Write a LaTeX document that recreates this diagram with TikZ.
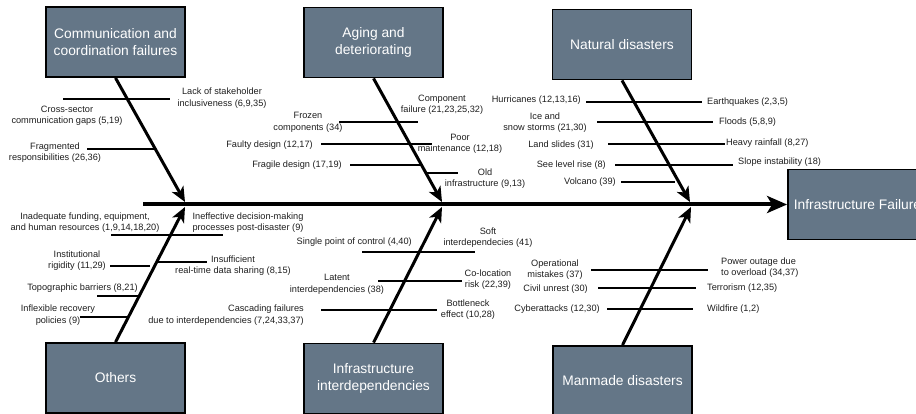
\documentclass[tikz,border=0pt]{standalone}
\usepackage{fontspec}
\setmainfont{Liberation Sans}
\usetikzlibrary{arrows.meta}
\definecolor{slate}{HTML}{647687}
\definecolor{labelc}{HTML}{1E1E1E}
\begin{document}
\begin{tikzpicture}[x=1pt,y=-1pt,
  cat/.style={draw=black, line width=1.8pt, fill=slate, text=white, minimum width=139pt, minimum height=70pt, inner sep=0pt, align=center, font=\fontsize{13.8}{17}\selectfont},
  bone/.style={line width=3pt, -{Stealth[length=15pt,width=13pt,inset=4pt]}},
  spinearrow/.style={line width=4pt, -{Stealth[length=20pt,width=17pt,inset=5pt]}},
  twig/.style={line width=1.8pt},
  lbl/.style={inner sep=0pt, align=center, text=labelc, font=\fontsize{9.2}{11.5}\selectfont},
]
\useasboundingbox (0,0) rectangle (916,414);
\clip (0,0) rectangle (916,414);

% category boxes
\node[cat] (comm) at (115.5,42) {Communication and\\coordination failures};
\node[cat] (aging) at (373.5,42.5) {Aging and\\deteriorating};
\node[cat] (nat) at (622,44.5) {Natural disasters};
\node[cat] (oth) at (115.5,378) {Others};
\node[cat] (inter) at (373.5,378.5) {Infrastructure\\interdependencies};
\node[cat] (man) at (622.5,381) {Manmade disasters};
\node[cat] (fail) at (857.5,204.5) {Infrastructure Failure};

% spine
\coordinate (sp0) at (143,204.5);
\draw[spinearrow] (sp0) -- (fail.west);

% main bones
\coordinate (t1) at (185,202);
\coordinate (t2) at (442,202);
\coordinate (t3) at (690,202);
\coordinate (b1) at (185,207);
\coordinate (b2) at (442,207);
\coordinate (b3) at (691,207);
\draw[bone] (comm.south) -- (t1);
\draw[bone] (aging.south) -- (t2);
\draw[bone] (nat.south) -- (t3);
\draw[bone] (oth.north) -- (b1);
\draw[bone] (inter.north) -- (b2);
\draw[bone] (man.north) -- (b3);

% ---- Communication and coordination failures
\draw[twig] (63,99) -- (170,99);
\node[lbl] (c1) at (222,98) {Lack of stakeholder\\inclusiveness (6,9,35)};
\node[lbl] (c2) at (67,115.5) {Cross-sector\\communication gaps (5,19)};
\draw[twig] (87,149) -- (154,149);
\node[lbl] (c3) at (55,152.5) {Fragmented\\responsibilities (26,36)};

% ---- Aging and deteriorating
\draw[twig] (339,122) -- (418,122);
\node[lbl] (a1) at (442,104.5) {Component\\failure (21,23,25,32)};
\node[lbl] (a2) at (308,122.5) {Frozen\\components (34)};
\draw[twig] (321,144) -- (432,144);
\node[lbl, anchor=east] (a3) at (313,145) {Faulty design (12,17)};
\node[lbl] (a4) at (460,144) {Poor\\maintenance (12,18)};
\draw[twig] (350,165) -- (420,165);
\node[lbl, anchor=east] (a5) at (342,165.5) {Fragile design (17,19)};
\draw[twig] (427,173) -- (458,173);
\node[lbl] (a6) at (485,178.5) {Old\\infrastructure (9,13)};

% ---- Natural disasters
\draw[twig] (586,102) -- (702,102);
\node[lbl, anchor=east] (n1) at (581,100.5) {Hurricanes (12,13,16)};
\node[lbl, anchor=west] (n2) at (707,102) {Earthquakes (2,3,5)};
\draw[twig] (597,122) -- (713,122);
\node[lbl] (n3) at (545,122.5) {Ice and\\snow storms (21,30)};
\node[lbl, anchor=west] (n4) at (719,122) {Floods (5,8,9)};
\draw[twig] (608,144) -- (725,144);
\node[lbl, anchor=east] (n5) at (594,145) {Land slides (31)};
\node[lbl, anchor=west] (n6) at (726,143.5) {Heavy rainfall (8,27)};
\draw[twig] (615,165) -- (733,165);
\node[lbl, anchor=east] (n7) at (606,165) {See level rise (8)};
\node[lbl, anchor=west] (n8) at (738,162.5) {Slope instability (18)};
\draw[twig] (621,182) -- (675,182);
\node[lbl, anchor=east] (n9) at (616,182) {Volcano (39)};

% ---- Others
\draw[twig] (111,235) -- (223,235);
\node[lbl] (o1) at (85,222.5) {Inadequate funding, equipment,\\and human resources (1,9,14,18,20)};
\node[lbl] (o2) at (248,222.5) {Ineffective decision-making\\processes post-disaster (9)};
\draw[twig] (110,266) -- (150,266);
\node[lbl] (o3) at (77,260.5) {Institutional\\rigidity (11,29)};
\draw[twig] (158,262) -- (207,262);
\node[lbl] (o4) at (233,265.5) {Insufficient\\real-time data sharing (8,15)};
\draw[twig] (97,296) -- (138,296);
\node[lbl] (o5) at (82.5,288) {Topographic barriers (8,21)};
\draw[twig] (80,317) -- (127,317);
\node[lbl] (o6) at (58,315) {Inflexible recovery\\policies (9)};

% ---- Infrastructure interdependencies
\draw[twig] (362,252) -- (475,252);
\node[lbl, anchor=east] (i1) at (412,242) {Single point of control (4,40)};
\node[lbl] (i2) at (488,237.5) {Soft\\interdependecies (41)};
\draw[twig] (378,281) -- (462,281);
\node[lbl] (i3) at (337,284.5) {Latent\\interdependencies (38)};
\node[lbl] (i4) at (488,279.5) {Co-location\\risk (22,39)};
\draw[twig] (321,310) -- (437,310);
\node[lbl, align=right, anchor=east] (i5) at (304,315) {Cascading failures\\due to interdependencies (7,24,33,37)};
\node[lbl] (i6) at (468,309.5) {Bottleneck\\effect (10,28)};

% ---- Manmade disasters
\draw[twig] (591,270) -- (708,270);
\node[lbl] (m1) at (555,269.5) {Operational\\mistakes (37)};
\node[lbl, align=left, anchor=west] (m2) at (721,267.5) {Power outage due\\to overload (34,37)};
\draw[twig] (598,288) -- (696,288);
\node[lbl, anchor=east] (m3) at (588,289) {Civil unrest (30)};
\node[lbl, anchor=west] (m4) at (707,288) {Terrorism (12,35)};
\draw[twig] (607,309) -- (693,309);
\node[lbl, anchor=east] (m5) at (600,309) {Cyberattacks (12,30)};
\node[lbl, anchor=west] (m6) at (707,309) {Wildfire (1,2)};
\end{tikzpicture}
\end{document}
